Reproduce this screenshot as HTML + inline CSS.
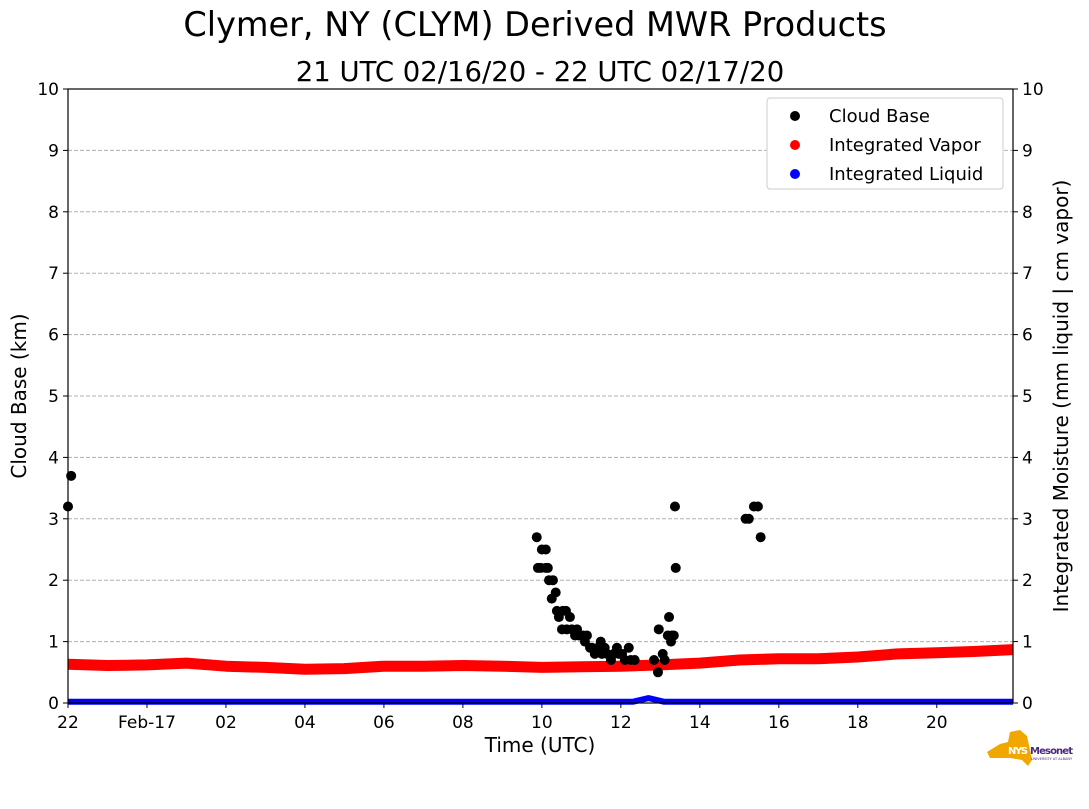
<!DOCTYPE html>
<html><head><meta charset="utf-8"><style>
body{margin:0;background:#fff;}
svg text{font-family:"DejaVu Sans","Liberation Sans",sans-serif;}
</style></head><body>
<svg width="1089" height="804" viewBox="0 0 1089 804" id="chart">
<text x="535" y="36" font-size="33.5" text-anchor="middle">Clymer, NY (CLYM) Derived MWR Products</text>
<text x="540" y="81" font-size="27.5" text-anchor="middle">21 UTC 02/16/20 - 22 UTC 02/17/20</text>
<g id="grid"></g>
<g id="series"></g>
<rect x="68" y="89" width="945" height="614" fill="none" stroke="#000" stroke-width="1.2"/>
<g id="axes"></g>
<text transform="translate(26,396) rotate(-90)" font-size="20" text-anchor="middle">Cloud Base (km)</text>
<text transform="translate(1068,396) rotate(-90)" font-size="20" text-anchor="middle">Integrated Moisture (mm liquid | cm vapor)</text>
<text x="540" y="752" font-size="20" text-anchor="middle">Time (UTC)</text>
<g>
<rect x="767" y="98" width="236" height="91" rx="3" fill="#fff" stroke="#ccc"/>
<circle cx="795" cy="116" r="5" fill="#000"/><text x="829" y="122" font-size="18">Cloud Base</text>
<circle cx="795" cy="145" r="5" fill="#f00"/><text x="829" y="151" font-size="18">Integrated Vapor</text>
<circle cx="795" cy="174" r="5" fill="#00f"/><text x="829" y="180" font-size="18">Integrated Liquid</text>
</g>
<g>
<polygon points="987,752 1000,744 1008,742 1010,732 1020,730 1027,736 1030,750 1032,760 1028,766 1022,760 1010,758 990,758" fill="#f0a800"/>
<text x="1008" y="754" font-size="10" font-weight="bold" fill="#fff" textLength="20">NYS</text>
<text x="1030" y="754" font-size="10" font-weight="bold" fill="#4b2a7b" textLength="43">Mesonet</text>
<text x="1031" y="760" font-size="3.5" fill="#4b2a7b">UNIVERSITY AT ALBANY</text>
</g>
</svg>
<script>
const yTicks=[0,1,2,3,4,5,6,7,8,9,10];
const xTickHours=[0,2,4,6,8,10,12,14,16,18,20,22];
const xTickLabels=["22","Feb-17","02","04","06","08","10","12","14","16","18","20"];
const cloudHours=[0,0.08,11.87,11.9,11.97,12.0,12.1,12.1,12.15,12.18,12.25,12.28,12.35,12.38,12.43,12.51,12.53,12.61,12.63,12.71,12.76,12.84,12.89,12.94,13.04,13.09,13.14,13.22,13.27,13.34,13.42,13.49,13.52,13.59,13.65,13.75,13.82,13.9,13.95,14.03,14.1,14.2,14.25,14.35,14.84,14.94,14.96,15.06,15.11,15.19,15.22,15.27,15.29,15.34,15.37,15.39,17.16,17.24,17.37,17.47,17.54];
const cloudKm=[3.2,3.7,2.7,2.2,2.2,2.5,2.5,2.2,2.2,2.0,1.7,2.0,1.8,1.5,1.4,1.2,1.5,1.5,1.2,1.4,1.2,1.1,1.2,1.1,1.1,1.0,1.1,0.9,0.9,0.8,0.9,1.0,0.8,0.9,0.8,0.7,0.8,0.9,0.8,0.8,0.7,0.9,0.7,0.7,0.7,0.5,1.2,0.8,0.7,1.1,1.4,1.0,1.1,1.1,3.2,2.2,3.0,3.0,3.2,3.2,2.7];
const vaporHours=[0,1,2,3,4,5,6,7,8,9,10,11,12,13,14,15,16,17,18,19,20,21,22,23,23.93];
const vaporVals=[0.63,0.61,0.62,0.65,0.60,0.58,0.55,0.56,0.60,0.60,0.61,0.60,0.58,0.59,0.60,0.62,0.65,0.70,0.72,0.72,0.75,0.80,0.82,0.84,0.87];
const liquidHours=[0,14.3,14.5,14.7,14.9,15.1,23.93];
const liquidVals=[0.02,0.02,0.05,0.08,0.05,0.02,0.02];
const X0=68,X1=1013,Y0=703,Y1=89,HMAX=23.93;
const xs=h=>X0+(X1-X0)*h/HMAX;
const ys=v=>Y0-(Y0-Y1)*v/10;
const NS="http://www.w3.org/2000/svg";
function mk(t,a,p){const e=document.createElementNS(NS,t);for(const k in a)e.setAttribute(k,a[k]);p.appendChild(e);return e;}
const grid=document.getElementById('grid'),axes=document.getElementById('axes'),ser=document.getElementById('series');
yTicks.forEach(v=>{
 const y=ys(v);
 if(v>0&&v<10){const g=mk('line',{x1:X0,x2:X1,y1:y,y2:y,stroke:'#b0b0b0','stroke-dasharray':'4,2'},grid);
 
 }
 mk('line',{x1:X0-5,x2:X0,y1:y,y2:y,stroke:'#000'},axes);
 mk('line',{x1:X1,x2:X1+5,y1:y,y2:y,stroke:'#000'},axes);
 const t1=mk('text',{x:X0-9,y:y+6,'font-size':17,'text-anchor':'end'},axes);t1.textContent=v;
 
 
 const t2=mk('text',{x:X1+9,y:y+6,'font-size':17},axes);t2.textContent=v;
 
 
});
xTickHours.forEach((h,i)=>{
 const x=xs(h);
 mk('line',{x1:x,x2:x,y1:Y0,y2:Y0+5,stroke:'#000'},axes);
 const t=mk('text',{x:x,y:Y0+25,'font-size':17,'text-anchor':'middle'},axes);t.textContent=xTickLabels[i];
 
 
});
const lp=(H,V)=>H.map((h,i)=>xs(h).toFixed(1)+','+ys(V[i]).toFixed(1)).join(' ');
const lq=mk('polyline',{points:lp(liquidHours,liquidVals),fill:'none',stroke:'#00f','stroke-width':6,'stroke-linejoin':'round'},ser);


const vp=mk('polyline',{points:lp(vaporHours,vaporVals),fill:'none',stroke:'#f00','stroke-width':11,'stroke-linejoin':'round'},ser);


cloudHours.forEach((h,i)=>{
 const c=mk('circle',{cx:xs(h),cy:ys(cloudKm[i]),r:5,fill:'#000'},ser);
 
 
});
</script>
</body></html>
